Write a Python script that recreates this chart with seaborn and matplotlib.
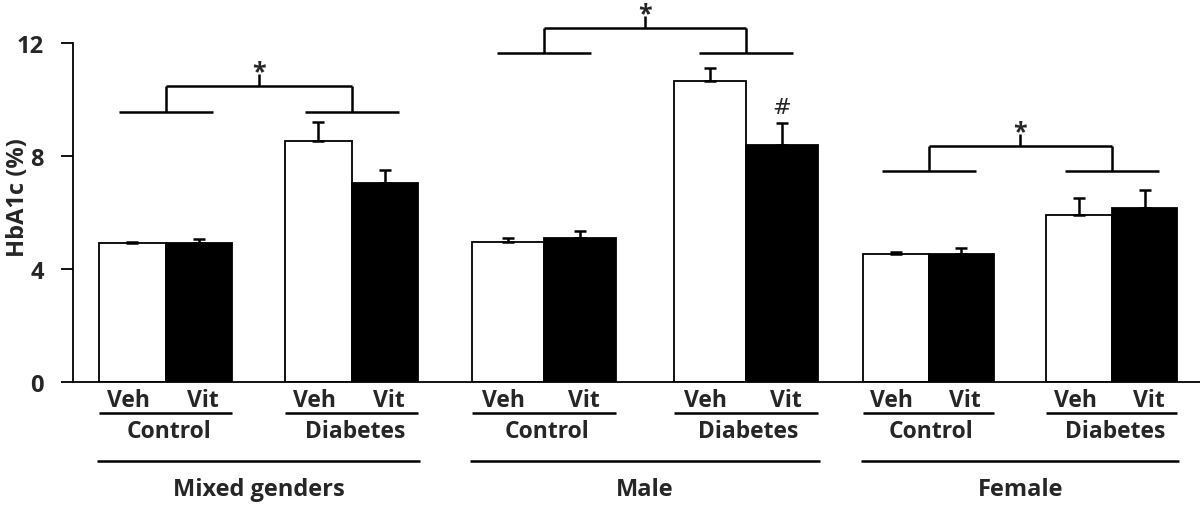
import numpy as np
import pandas as pd
import seaborn as sns
import matplotlib.pyplot as plt

# HbA1c (%): Control Veh, Control Vit, Diabetes Veh, Diabetes Vit
panels = ['Mixed genders', 'Male', 'Female']
groups = ['Control', 'Diabetes']
treatments = ['Veh', 'Vit']

mixed_mean = [4.92, 4.94, 8.55, 7.07]
mixed_sem = [0.06, 0.13, 0.67, 0.46]
male_mean = [4.98, 5.12, 10.68, 8.40]
male_sem = [0.12, 0.24, 0.44, 0.77]
female_mean = [4.55, 4.55, 5.93, 6.16]
female_sem = [0.07, 0.19, 0.60, 0.64]

means = [mixed_mean, male_mean, female_mean]
sems = [mixed_sem, male_sem, female_sem]

# layout (x in pixel-like units, y in data units)
panel_left = [99, 472, 863]
bar_w = [66.5, 72, 65.5]
slot = np.array([0, 1, 2.8, 3.8])
short_y = [9.57, 11.66, 7.48]
top_y = [10.49, 12.55, 8.36]

sns.set_style('white')
plt.rcParams['font.family'] = ['Open Sans', 'DejaVu Sans']
plt.rcParams['font.weight'] = 'bold'

fig = plt.figure(figsize=(12, 5.06), dpi=100)
ax = fig.add_axes([73 / 1200, 0.2425, 1127 / 1200, 0.67])

for p in range(3):
    xs = panel_left[p] + bar_w[p] * (slot + 0.5)
    df = pd.DataFrame({'x': xs, 'y': means[p],
                       'treat': treatments * 2})
    sns.barplot(data=df, x='x', y='y', hue='treat', native_scale=True,
                dodge=False, width=1.0, palette={'Veh': 'white', 'Vit': 'black'},
                edgecolor='black', linewidth=1.3, errorbar=None,
                legend=False, ax=ax)
    ax.errorbar(xs, means[p], yerr=[np.zeros(4), sems[p]], fmt='none',
                ecolor='black', elinewidth=1.8, capsize=4, capthick=1.8)

    kw = dict(color='black', lw=1.8, clip_on=False, solid_capstyle='butt')
    centers = []
    for g in range(2):
        left = panel_left[p] + bar_w[p] * slot[2 * g]
        right = left + 2 * bar_w[p]
        c = (left + right) / 2
        centers.append(c)
        # treatment labels and group underline
        for t in range(2):
            ax.text(xs[2 * g + t] + (-4 if t == 0 else 4), -0.63, treatments[t],
                    ha='center', va='center', fontsize=16.5, fontweight='bold')
        ax.plot([left, right], [-1.10, -1.10], **kw)
        ax.text(c + 3, -1.74, groups[g], ha='center', va='center',
                fontsize=16.5, fontweight='bold')
        # significance bracket arms
        ax.plot([c - 47, c + 47], [short_y[p]] * 2, **kw)
        ax.plot([c, c], [short_y[p], top_y[p]], **kw)
    ax.plot(centers, [top_y[p]] * 2, **kw)
    mid = (centers[0] + centers[1]) / 2
    ax.plot([mid, mid], [top_y[p], top_y[p] + 0.42], **kw)
    ax.text(mid, top_y[p] + 0.28, '*', ha='center', va='baseline',
            fontsize=18, fontweight='bold', clip_on=False)
    span_l = panel_left[p] - 2
    span_r = panel_left[p] + bar_w[p] * slot[3] + bar_w[p] + 2
    ax.plot([span_l, span_r], [-2.77, -2.77], **kw)
    ax.text((span_l + span_r) / 2, -3.78, panels[p], ha='center',
            va='center', fontsize=17, fontweight='bold')

# significance vs. diabetic vehicle (male)
male_xs = panel_left[1] + bar_w[1] * (slot + 0.5)
ax.text(male_xs[3], 9.74, '#', ha='center', va='center', fontsize=16,
        fontweight='normal', family='DejaVu Sans')

ax.set_xlim(73, 1200)
ax.set_ylim(0, 12)
ax.set_yticks([0, 4, 8, 12])
ax.set_yticklabels(['0', '4', '8', '12'], fontsize=17, fontweight='bold')
ax.set_xticks([])
ax.set_xlabel('')
ax.set_ylabel('HbA1c (%)', fontsize=17, fontweight='bold')
ax.yaxis.set_label_coords(-0.038, 0.547)
ax.tick_params(axis='y', direction='out', length=9, width=1.3, pad=12,
               left=True, color='black')
for s in ['top', 'right']:
    ax.spines[s].set_visible(False)
ax.spines['left'].set_color('black')
ax.spines['bottom'].set_color('black')
ax.spines['left'].set_linewidth(1.3)
ax.spines['bottom'].set_linewidth(1.3)

fig.savefig('out.png', dpi=100)
